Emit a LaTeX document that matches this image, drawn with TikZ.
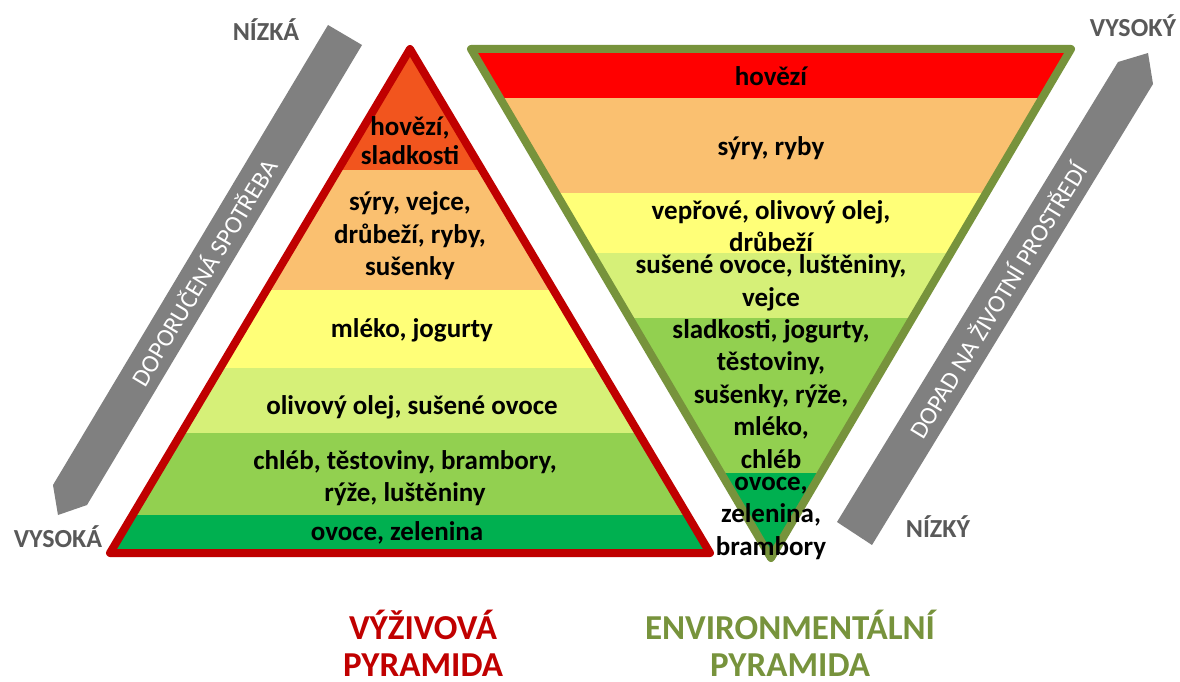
\documentclass[tikz,border=0pt]{standalone}
\usepackage{fontspec}
\setmainfont{Carlito}
\usepackage{tikz}
\definecolor{nutrired}{RGB}{192,0,0}
\definecolor{envgreen}{RGB}{119,147,60}
\definecolor{bandtop}{RGB}{242,85,30}
\definecolor{bandred}{RGB}{255,0,0}
\definecolor{bandorange}{RGB}{250,192,112}
\definecolor{bandyellow}{RGB}{255,255,120}
\definecolor{bandlime}{RGB}{214,240,120}
\definecolor{bandgreen}{RGB}{146,208,80}
\definecolor{banddark}{RGB}{0,176,80}
\definecolor{arrowgray}{RGB}{128,128,128}
\definecolor{labelgray}{RGB}{89,89,89}

\begin{document}
\begin{tikzpicture}[x=1pt,y=-1pt,
	food/.style={font=\fontsize{27}{32.5}\selectfont\bfseries, align=center, inner sep=0pt},
	axislabel/.style={font=\fontsize{26}{30}\selectfont\bfseries, text=labelgray, inner sep=0pt},
	arrowtext/.style={font=\fontsize{25}{30}\selectfont, text=white, inner sep=0pt},
	title/.style={font=\fontsize{35}{37}\selectfont\bfseries, align=center, inner sep=0pt}]
	\useasboundingbox[fill=white] (0,0) rectangle (1180,682);

	% gray arrows
	\fill[arrowgray] (328,25) -- (362,45) -- (87,505) -- (58,515) -- (53,485) -- cycle;
	\fill[arrowgray] (837,522) -- (872,545) -- (1153,84) -- (1148,53) -- (1118,62) -- cycle;
	\node[arrowtext, rotate=59] (spotreba) at (203,272) {DOPORUČENÁ SPOTŘEBA};
	\node[arrowtext, rotate=58.6] (dopad) at (997,300) {DOPAD NA ŽIVOTNÍ PROSTŘEDÍ};
	\node[axislabel] (nizka) at (266,30) {NÍZKÁ};
	\node[axislabel] (vysoka) at (58,537) {VYSOKÁ};
	\node[axislabel] (vysoky) at (1133,26) {VYSOKÝ};
	\node[axislabel] (nizky) at (938,527) {NÍZKÝ};

	% vyzivova pyramida
	\begin{scope}
		\clip (410,49) -- (710,553) -- (110,553) -- cycle;
		\fill[bandtop] (100,40) rectangle (720,170);
		\fill[bandorange] (100,170) rectangle (720,290);
		\fill[bandyellow] (100,290) rectangle (720,368);
		\fill[bandlime] (100,368) rectangle (720,433);
		\fill[bandgreen] (100,433) rectangle (720,515);
		\fill[banddark] (100,515) rectangle (720,560);
	\end{scope}
	\draw[nutrired, line width=8pt, line join=round] (410,49) -- (710,553) -- (110,553) -- cycle;
	\node[food, font=\fontsize{27}{29}\selectfont\bfseries] (hovezi) at (410,141) {hovězí,\\sladkosti};
	\node[food] (syry) at (410,236) {sýry, vejce,\\drůbeží, ryby,\\sušenky};
	\node[food] (mleko) at (412,330) {mléko, jogurty};
	\node[food] (olej) at (412,407) {olivový olej, sušené ovoce};
	\node[food] (chleb) at (405,478) {chléb, těstoviny, brambory,\\rýže, luštěniny};
	\node[food] (ovoce) at (397,533) {ovoce, zelenina};

	% environmentalni pyramida
	\begin{scope}
		\clip (471,49) -- (1071,49) -- (771,558) -- cycle;
		\fill[bandred] (460,40) rectangle (1080,98);
		\fill[bandorange] (460,98) rectangle (1080,193);
		\fill[bandyellow] (460,193) rectangle (1080,253);
		\fill[bandlime] (460,253) rectangle (1080,318);
		\fill[bandgreen] (460,318) rectangle (1080,473);
		\fill[banddark] (460,473) rectangle (1080,570);
	\end{scope}
	\draw[envgreen, line width=8pt, line join=round] (471,49) -- (1071,49) -- (771,558) -- cycle;
	\node[food] (ehovezi) at (771,76) {hovězí};
	\node[food] (esyry) at (771,148) {sýry, ryby};
	\node[food] (eveprove) at (771,226) {vepřové, olivový olej,\\drůbeží};
	\node[food] (esusene) at (771,283) {sušené ovoce, luštěniny,\\vejce};
	\node[food] (esladkosti) at (771,394) {sladkosti, jogurty,\\těstoviny,\\sušenky, rýže,\\mléko,\\chléb};
	\node[food] (eovoce) at (771,518) {ovoce,\\zelenina,\\brambory};

	% titles
	\node[title, text=nutrired] (vyzivova) at (423,643) {VÝŽIVOVÁ\\PYRAMIDA};
	\node[title, text=envgreen] (environ) at (790,643) {ENVIRONMENTÁLNÍ\\PYRAMIDA};
\end{tikzpicture}
\end{document}
